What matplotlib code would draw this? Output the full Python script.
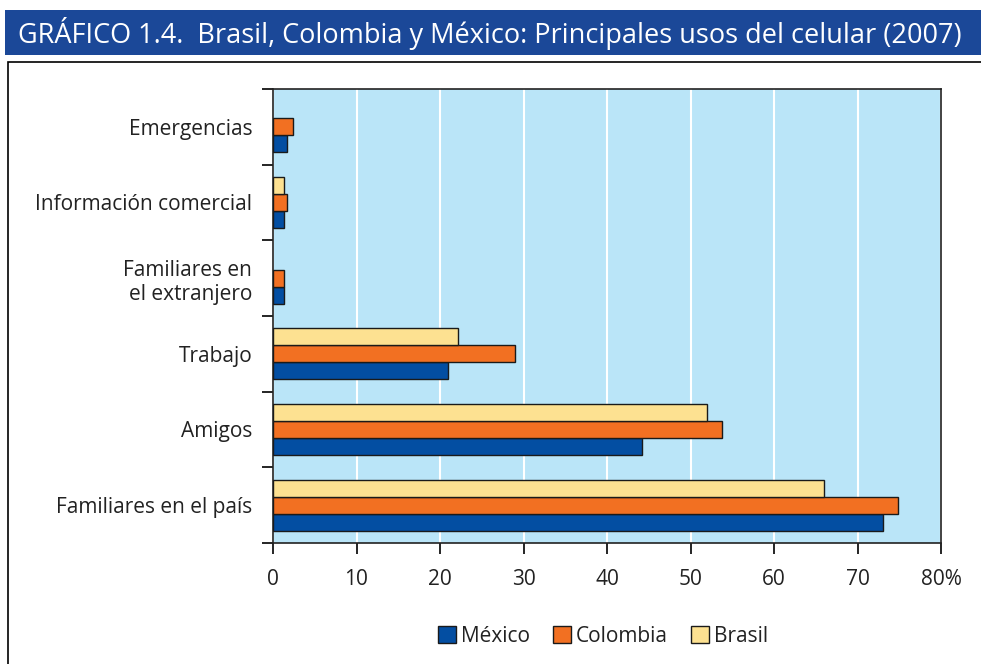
import matplotlib
matplotlib.use("Agg")
import matplotlib.pyplot as plt
import numpy as np
from matplotlib.patches import Rectangle

categories = ["Familiares en el país", "Amigos", "Trabajo",
              "Familiares en\nel extranjero", "Información comercial", "Emergencias"]
mexico = [73.0, 44.2, 21.0, 1.3, 1.3, 1.7]
colombia = [74.8, 53.8, 29.0, 1.3, 1.7, 2.4]
brasil = [66.0, 52.0, 22.1, 0.0, 1.3, 0.0]
xticks = [0, 10, 20, 30, 40, 50, 60, 70, 80]
xticklabels = ["0", "10", "20", "30", "40", "50", "60", "70", "80%"]
title = "GRÁFICO 1.4.  Brasil, Colombia y México: Principales usos del celular (2007)"

c_mex = "#034ea2"
c_col = "#f27022"
c_bra = "#fde191"
bg = "#bae5f8"

plt.rcParams['font.family'] = ['Open Sans', 'DejaVu Sans']

fig = plt.figure(figsize=(9.81, 6.64), dpi=100)
W, H = 981, 664

# title band
fig.patches.append(Rectangle((5 / W, 1 - 55 / H), 1, 45 / H, transform=fig.transFigure,
                             facecolor="#1b4898", edgecolor="none"))
fig.text(18 / W, 1 - 34 / H, title, color="white", fontsize=19.5, va="center", ha="left")
# frame
fig.patches.append(Rectangle((8 / W, -0.1), 1.1, (1 - 62 / H) + 0.1, transform=fig.transFigure,
                             facecolor="none", edgecolor="black", linewidth=1.2))

ax = fig.add_axes([273 / W, 1 - 543 / H, (941 - 273) / W, (543 - 89) / H])
ax.set_facecolor(bg)
y = np.arange(len(categories))
h = 0.225
ax.barh(y - h, mexico, height=h, color=c_mex, edgecolor="#1a1a1a", linewidth=1, label="México", zorder=3)
ax.barh(y, colombia, height=h, color=c_col, edgecolor="#1a1a1a", linewidth=1, label="Colombia", zorder=3)
ax.barh(y + h, [v if v > 0 else np.nan for v in brasil], height=h, color=c_bra,
        edgecolor="#1a1a1a", linewidth=1, label="Brasil", zorder=3)

ax.set_xlim(0, 80)
ax.set_ylim(-0.5, len(categories) - 0.5)
ax.set_xticks(xticks)
ax.set_xticklabels(xticklabels, fontsize=15, color="#222222")
ax.set_yticks(y)
ax.set_yticklabels(categories, fontsize=15, color="#222222")
ax.tick_params(axis="y", length=0, pad=15)
ax.set_yticks(np.arange(-0.5, len(categories), 1), minor=True)
ax.tick_params(axis="y", which="minor", length=8, width=1.2, direction="out")
ax.tick_params(axis="x", length=8, width=1.2, direction="out", pad=11)
ax.grid(axis="x", color="white", linewidth=1.5, zorder=1)
ax.set_axisbelow(True)
for s in ax.spines.values():
    s.set_color("#222222")
    s.set_linewidth(1.2)

leg = fig.legend(loc="center", bbox_to_anchor=(603 / W, 1 - 636 / H), ncol=3, frameon=False,
                 fontsize=15, handlelength=0.85, handleheight=0.85, handletextpad=0.25,
                 columnspacing=1.1)
for t in leg.get_texts():
    t.set_color("#222222")

fig.savefig("out.png", dpi=100)
